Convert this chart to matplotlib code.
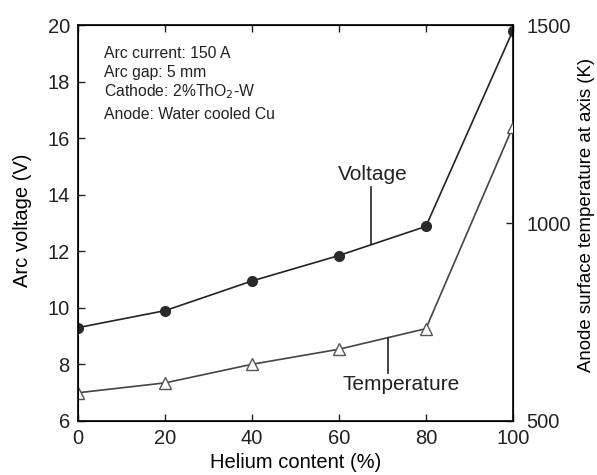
import matplotlib.pyplot as plt

plt.rcParams['font.family'] = ['Liberation Sans', 'DejaVu Sans']

helium = [0, 20, 40, 60, 80, 100]
voltage = [9.3, 9.9, 10.95, 11.85, 12.88, 19.8]
temperature = [571, 596, 643, 681, 733, 1243]

fig = plt.figure(figsize=(5.97, 4.75), dpi=100)
ax = fig.add_axes([0.131, 0.114, 0.728, 0.833])
ax2 = ax.twinx()

ax.plot(helium, voltage, color='#222222', lw=1.2, marker='o', ms=7,
        mfc='#2a2a2a', mec='#2a2a2a')
ax2.plot(helium, temperature, color='#444444', lw=1.2, marker='^', ms=8,
         mfc='white', mec='#555555')

ax.set_xlim(0, 100)
ax.set_ylim(6, 20)
ax2.set_ylim(500, 1500)
ax.set_xticks(helium)
ax.set_yticks(range(6, 21, 2))
ax2.set_yticks([500, 1000, 1500])

ax.tick_params(direction='in', length=5, width=1, labelsize=14.5, top=True,
               colors='#222222')
ax.tick_params(axis='x', pad=6)
ax.tick_params(axis='y', pad=6)
ax2.tick_params(direction='in', length=5, width=1, labelsize=14.5,
                colors='#222222', pad=10)
for spine in ax.spines.values():
    spine.set_linewidth(1.2)

ax.set_xlabel('Helium content (%)', fontsize=14.5)
ax.set_ylabel('Arc voltage (V)', fontsize=14.5)
ax2.set_ylabel('Anode surface temperature at axis (K)', fontsize=13.4)
ax.xaxis.set_label_coords(0.5, -0.106)
ax.yaxis.set_label_coords(-0.129, 0.508)
ax2.yaxis.set_label_coords(1.17, 0.52)
ax2.yaxis.label.set_va('center')
ax.yaxis.label.set_va('center')
ax.xaxis.label.set_va('center')

# experimental conditions
notes = ['Arc current: 150 A', 'Arc gap: 5 mm', 'Cathode: 2%ThO$_2$-W',
         'Anode: Water cooled Cu']
note_y = [0.929, 0.881, 0.833, 0.775]
for note, y in zip(notes, note_y):
    ax.text(0.06, y, note, transform=ax.transAxes, fontsize=11.3,
            color='#222222', va='center')

# series labels with leader lines
ax.text(67.7, 14.7, 'Voltage', fontsize=15, ha='center', va='center', color='#222222')
ax.plot([67.4, 67.4], [14.27, 12.25], color='#222222', lw=1.2)
ax2.text(74.3, 591, 'Temperature', fontsize=15, ha='center', va='center', color='#222222')
ax2.plot([71.3, 71.3], [710, 621], color='#222222', lw=1.2)

fig.savefig('out.png', dpi=100)
